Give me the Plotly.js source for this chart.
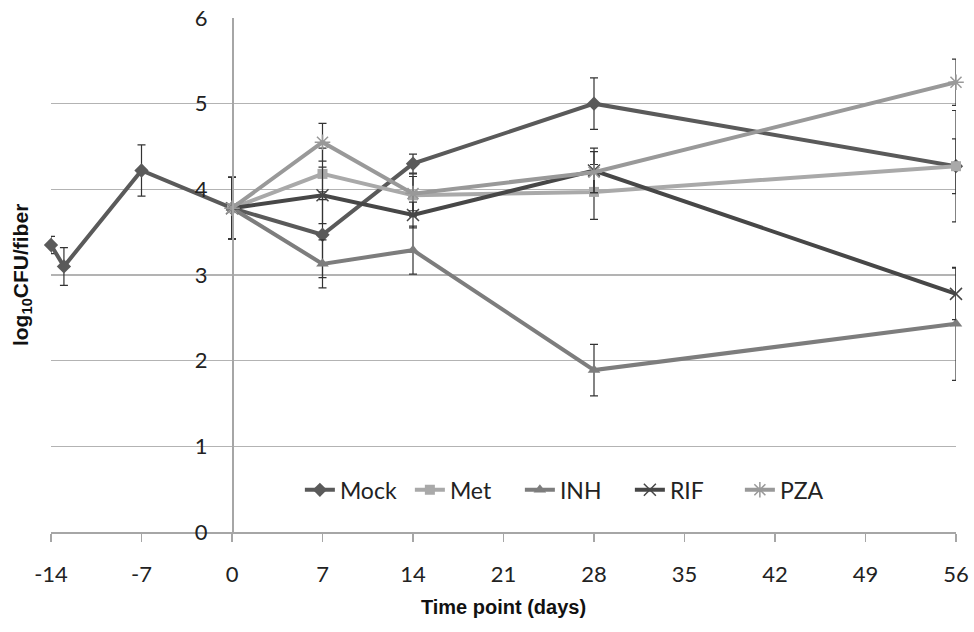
<!DOCTYPE html>
<html>
<head>
<meta charset="utf-8">
<script src="https://cdn.plot.ly/plotly-3.0.1.min.js"></script>
<style>html,body{margin:0;padding:0;background:#fff;}#chart{width:974px;height:632px;}</style>
</head>
<body>
<div id="chart"></div>
<script>
// ---- data ----
const mockDays = [-14, -13, -7, 0, 7, 14, 28, 56];
const mockVals = [3.35, 3.10, 4.22, 3.78, 3.47, 4.30, 5.00, 4.27];
const mockErr  = [0.10, 0.22, 0.30, 0.36, 0.50, 0.11, 0.30, 0.32];

const txDays = [0, 7, 14, 28, 56];
const metVals = [3.78, 4.18, 3.93, 3.97, 4.27];
const metErr  = [0.36, 0.30, 0.25, 0.32, 0.65];
const inhVals = [3.78, 3.13, 3.29, 1.89, 2.43];
const inhErr  = [0.36, 0.28, 0.28, 0.30, 0.66];
const rifVals = [3.78, 3.93, 3.70, 4.22, 2.78];
const rifErr  = [0.36, 0.33, 0.15, 0.26, 0.30];
const pzaVals = [3.78, 4.55, 3.95, 4.20, 5.25];
const pzaErr  = [0.36, 0.22, 0.20, 0.24, 0.27];

const xTicks = [-14, -7, 0, 7, 14, 21, 28, 35, 42, 49, 56];
const yTicks = [0, 1, 2, 3, 4, 5, 6];

function series(name, x, y, err, color, symbol, size, open) {
  return {
    type: 'scatter', mode: 'lines+markers', name: name, x: x, y: y,
    cliponaxis: false,
    line: {color: color, width: 4},
    marker: open ? {symbol: symbol, size: size, color: color, line: {color: color, width: 1.5}}
                 : {symbol: symbol, size: size, color: color},
    error_y: {type: 'data', array: err, visible: true, color: '#333333', thickness: 1.2, width: 4}
  };
}

const traces = [
  series('Mock', mockDays, mockVals, mockErr, '#5a5a5a', 'diamond', 11, false),
  series('Met', txDays, metVals, metErr, '#a9a9a9', 'square', 10, false),
  series('INH', txDays, inhVals, inhErr, '#7d7d7d', 'triangle-up', 11, false),
  series('RIF', txDays, rifVals, rifErr, '#474747', 'x-thin-open', 12, true),
  series('PZA', txDays, pzaVals, pzaErr, '#999999', 'asterisk-open', 13, true)
];

const layout = {
  width: 974, height: 632,
  margin: {l: 51, r: 18, t: 18, b: 100},
  paper_bgcolor: '#ffffff', plot_bgcolor: '#ffffff',
  font: {family: 'Lato, "Open Sans", sans-serif', size: 18, color: '#222222'},
  showlegend: true,
  legend: {orientation: 'h', x: 0.275, y: 0.082, xanchor: 'left', yanchor: 'middle',
           bgcolor: 'rgba(0,0,0,0)', font: {family: 'Lato, sans-serif', size: 23, color: '#222'},
           itemwidth: 30, entrywidth: 65, entrywidthmode: 'pixels'},
  xaxis: {
    range: [-14, 56], tickvals: xTicks, ticktext: xTicks.map(String),
    showgrid: false, zeroline: false,
    showline: true, linecolor: '#a6a6a6', linewidth: 1.5,
    ticks: 'outside', ticklen: 8, tickcolor: '#a6a6a6', tickwidth: 1.5,
    ticklabelstandoff: 14,
    tickfont: {family: 'Lato, sans-serif', size: 22, color: '#222'},
    title: {text: 'Time point (days)', standoff: 14,
            font: {family: '"Liberation Sans Narrow", "Liberation Sans", Arial, sans-serif', size: 20, color: '#111', weight: 'bold'}}
  },
  yaxis: {
    range: [0, 6], tickvals: yTicks, ticktext: yTicks.map(String),
    anchor: 'free', position: 0.2,
    showgrid: true, gridcolor: '#b3b3b3', gridwidth: 1.5,
    zeroline: false, showline: true, linecolor: '#a6a6a6', linewidth: 1.5,
    ticks: '', ticklabelstandoff: 20,
    tickfont: {family: 'Lato, sans-serif', size: 22, color: '#222'}
  },
  annotations: [{
    xref: 'paper', yref: 'paper', x: -0.032, y: 0.5, textangle: -90,
    showarrow: false, xanchor: 'center', yanchor: 'middle',
    text: '<b>log<sub>10</sub>CFU/fiber</b>',
    font: {family: '"Liberation Sans", Arial, sans-serif', size: 21, color: '#111'}
  }]
};

Plotly.newPlot('chart', traces, layout, {displayModeBar: false, staticPlot: true});
</script>
</body>
</html>
